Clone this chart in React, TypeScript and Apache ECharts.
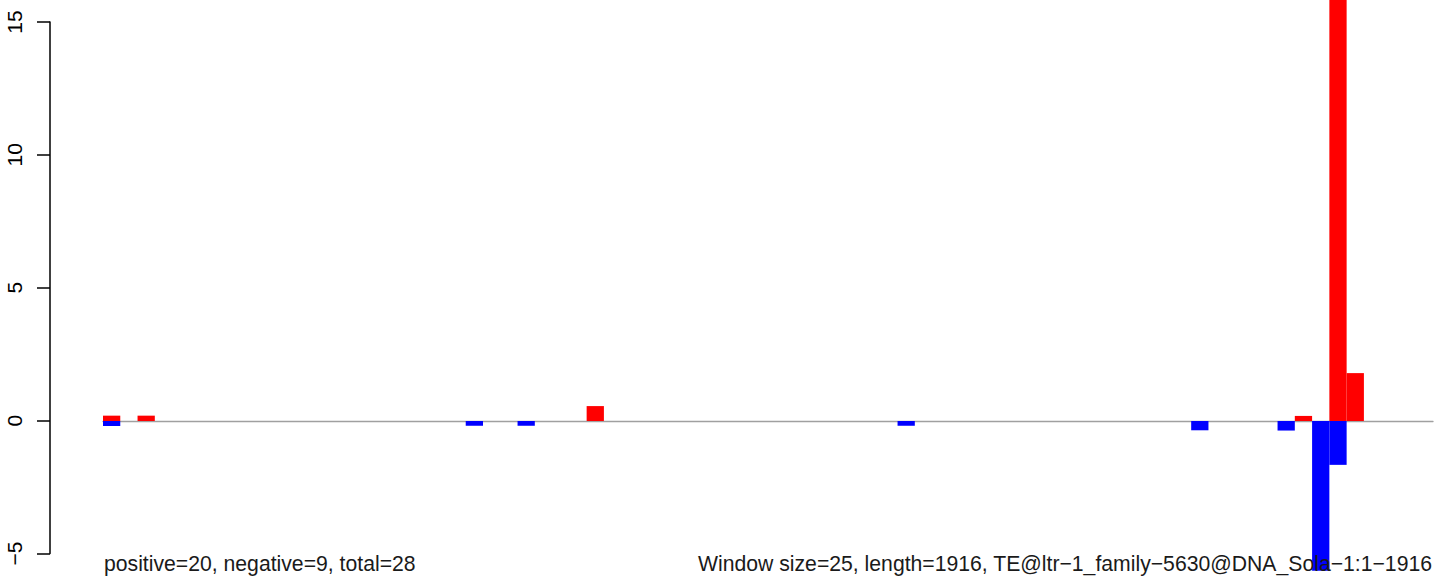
import React, { useEffect, useRef } from "react";
import * as echarts from "echarts";

// 77 windows of 25 bp over length 1916
const windowCount = 77;
const categories: string[] = Array.from({ length: windowCount }, (_, i) => String(i + 1));

// non-zero windows (index -> value)
const positiveBins: number[] = [0, 2, 28, 69, 71, 72];
const positiveValues: number[] = [0.2, 0.2, 0.56, 0.19, 16.5, 1.8];
const negativeBins: number[] = [0, 21, 24, 46, 63, 68, 70, 71];
const negativeValues: number[] = [-0.19, -0.18, -0.18, -0.18, -0.35, -0.36, -6.0, -1.65];

const yTicks: number[] = [-5, 0, 5, 10, 15];
const leftNote = "positive=20, negative=9, total=28";
const rightNote = "Window size=25, length=1916, TE@ltr\u22121_family\u22125630@DNA_Sola\u22121:1\u22121916";

const fill = (bins: number[], vals: number[]) => {
  const arr: number[] = new Array(windowCount).fill(0);
  bins.forEach((b, i) => {
    arr[b] = vals[i];
  });
  return arr;
};

const posData = fill(positiveBins, positiveValues);
const negData = fill(negativeBins, negativeValues);

const FONT = "Liberation Sans, Arial, Helvetica, sans-serif";

export default function App() {
  const ref = useRef<HTMLDivElement>(null);
  useEffect(() => {
    if (!ref.current) return;
    const chart = echarts.init(ref.current, undefined, { renderer: "svg" });
    chart.setOption({
      animation: false,
      backgroundColor: "#ffffff",
      grid: [
        { left: 103, right: 11, top: 0, bottom: 11.3, containLabel: false },
        { left: 50, width: 10, top: 22, bottom: 28.5, containLabel: false },
      ],
      xAxis: [
        {
          type: "category",
          gridIndex: 0,
          data: categories,
          boundaryGap: true,
          axisLine: { show: true, onZero: true, lineStyle: { color: "#a0a0a0", width: 1.3 } },
          axisTick: { show: false },
          axisLabel: { show: false },
          splitLine: { show: false },
        },
        {
          type: "value",
          gridIndex: 1,
          show: false,
          min: 0,
          max: 1,
        },
      ],
      yAxis: [
        {
          type: "value",
          gridIndex: 0,
          min: -5.63,
          max: 15.83,
          show: false,
          splitLine: { show: false },
        },
        {
          type: "value",
          gridIndex: 1,
          min: yTicks[0],
          max: yTicks[yTicks.length - 1],
          interval: 5,
          position: "left",
          axisLine: { show: true, lineStyle: { color: "#000000", width: 1.5 } },
          axisTick: { show: true, length: 13, lineStyle: { color: "#000000", width: 1.5 } },
          axisLabel: {
            show: true,
            rotate: 90,
            margin: 25,
            color: "#000000",
            fontFamily: FONT,
            fontSize: 21,
            formatter: (v: number) => String(v).replace("-", "\u2212"),
          },
          splitLine: { show: false },
        },
      ],
      series: [
        {
          type: "bar",
          xAxisIndex: 0,
          yAxisIndex: 0,
          data: posData,
          barGap: "-100%",
          barCategoryGap: 0,
          itemStyle: { color: "#ff0000" },
          clip: true,
        },
        {
          type: "bar",
          xAxisIndex: 0,
          yAxisIndex: 0,
          data: negData,
          barGap: "-100%",
          barCategoryGap: 0,
          itemStyle: { color: "#0000ff" },
          clip: true,
        },
      ],
      graphic: [
        {
          type: "text",
          x: 104,
          y: 563,
          z: 100,
          style: {
            text: leftNote,
            font: `21.2px ${FONT}`,
            fill: "#1a1a1a",
            align: "left",
            verticalAlign: "middle",
          },
        },
        {
          type: "text",
          x: 1432,
          y: 563,
          z: 100,
          style: {
            text: rightNote,
            font: `21.2px ${FONT}`,
            fill: "#1a1a1a",
            align: "right",
            verticalAlign: "middle",
          },
        },
      ],
    });
    return () => chart.dispose();
  }, []);
  return (
    <div
      ref={ref}
      style={{ position: "fixed", left: 0, top: 0, width: 1444, height: 582, background: "#fff" }}
    />
  );
}
